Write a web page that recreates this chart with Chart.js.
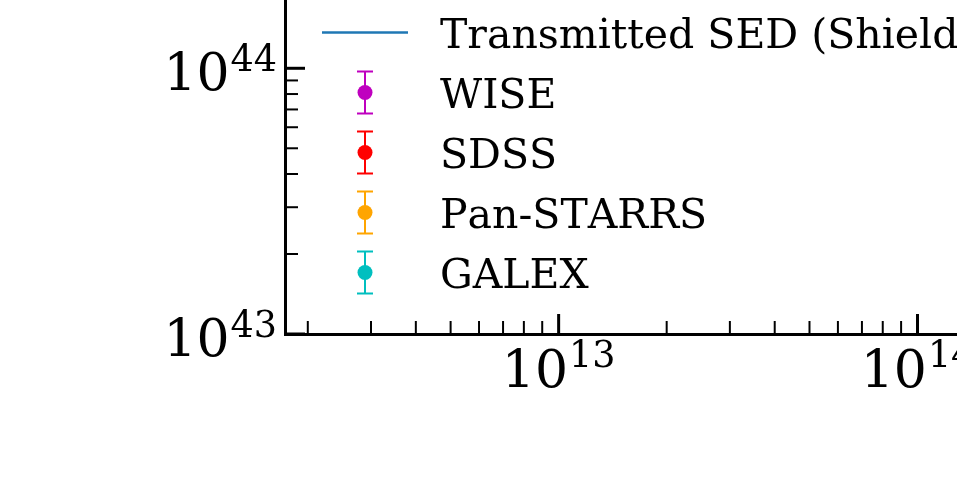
<!DOCTYPE html>
<html><head><meta charset="utf-8">
<script src="https://cdn.jsdelivr.net/npm/chart.js@4/dist/chart.umd.min.js"></script>
<style>html,body{margin:0;padding:0;background:#fff;overflow:hidden}canvas{display:block}</style>
</head><body><canvas id="c" width="957" height="481"></canvas>
<script>
// ---- data (no point of any series lies inside the visible window of the reference) ----
const seriesNames  = ['Transmitted SED (Shielded)', 'WISE', 'SDSS', 'Pan-STARRS', 'GALEX'];
const seriesColors = ['#1f77b4', '#bf00bf', '#ff0000', '#ffa500', '#00bfbf'];
const sedFreq = [];   const sedLum = [];
const wiseFreq = [];  const wiseLum = [];  const wiseErr = [];
const sdssFreq = [];  const sdssLum = [];  const sdssErr = [];
const panFreq = [];   const panLum = [];   const panErr = [];
const galexFreq = []; const galexLum = []; const galexErr = [];
const xTickExponents = [13, 14];
const yTickExponents = [43, 44];
const xLogRange = [12.2375, 14.11];
const yLogRange = [43.0, 44.257];

function pts(xs, ys, es) { return xs.map((x, i) => ({x: x, y: ys[i], err: es ? es[i] : 0})); }

const FONT = "'DejaVu Serif', serif";

const errorBars = {
  id: 'errorBars',
  afterDatasetsDraw(chart) {
    const ctx = chart.ctx, ys = chart.scales.y, xs = chart.scales.x;
    ctx.save();
    chart.data.datasets.forEach((ds) => {
      if (!ds.errorbar) return;
      ctx.strokeStyle = ds.borderColor; ctx.lineWidth = 2;
      ds.data.forEach(p => {
        const px = xs.getPixelForValue(p.x);
        const y1 = ys.getPixelForValue(p.y - p.err), y2 = ys.getPixelForValue(p.y + p.err);
        ctx.beginPath(); ctx.moveTo(px, y1); ctx.lineTo(px, y2);
        ctx.moveTo(px - 8, y1); ctx.lineTo(px + 8, y1);
        ctx.moveTo(px - 8, y2); ctx.lineTo(px + 8, y2); ctx.stroke();
      });
    });
    ctx.restore();
  }
};

const BASE_PX = 52, SUP_PX = 36.5;
function drawPow(ctx, exp, startX, baseY, supY) {
  ctx.font = BASE_PX + 'px ' + FONT;
  ctx.fillText('10', startX, baseY);
  const w = ctx.measureText('10').width;
  ctx.font = SUP_PX + 'px ' + FONT;
  ctx.fillText(String(exp), startX + w + 1, supY);
}
function powWidth(ctx, exp) {
  ctx.font = BASE_PX + 'px ' + FONT; const a = ctx.measureText('10').width;
  ctx.font = SUP_PX + 'px ' + FONT; const b = ctx.measureText(String(exp)).width;
  return a + b + 1;
}

const axisDecor = {
  id: 'axisDecor',
  afterDraw(chart) {
    const ctx = chart.ctx, xs = chart.scales.x, ys = chart.scales.y, ca = chart.chartArea;
    ctx.save();
    ctx.strokeStyle = '#000'; ctx.fillStyle = '#000';
    ctx.textAlign = 'left'; ctx.textBaseline = 'alphabetic';
    try { ctx.fontKerning = 'none'; } catch (e) {}
    const eachTick = (scale, fn) => {
      const lo = Math.floor(Math.log10(scale.min)), hi = Math.ceil(Math.log10(scale.max));
      for (let k = lo; k <= hi; k++) for (let m = 1; m <= 9; m++) {
        const v = m * Math.pow(10, k);
        if (v < scale.min || v > scale.max) continue;
        fn(scale.getPixelForValue(v), m === 1, k);
      }
    };
    // x ticks (inward)
    eachTick(xs, (px, major, k) => {
      ctx.lineWidth = major ? 3 : 2;
      ctx.beginPath(); ctx.moveTo(px, ca.bottom); ctx.lineTo(px, ca.bottom - (major ? 20 : 13)); ctx.stroke();
      if (major && xTickExponents.includes(k)) {
        const w = powWidth(ctx, k);
        drawPow(ctx, k, px - w / 2, ca.bottom + 53, ca.bottom + 33);
      }
    });
    eachTick(ys, (py, major, k) => {
      ctx.lineWidth = major ? 3 : 2;
      ctx.beginPath(); ctx.moveTo(ca.left, py); ctx.lineTo(ca.left + (major ? 20 : 13), py); ctx.stroke();
      if (major && yTickExponents.includes(k)) {
        const w = powWidth(ctx, k);
        drawPow(ctx, k, ca.left - 8 - w, py + 22, py + 3);
      }
    });
    // legend
    const hx0 = 322, hx1 = 408, hc = 365, tx = 440, base0 = 47.5, step = 60;
    ctx.font = '41px ' + FONT;
    chart.data.datasets.forEach((ds, i) => {
      const b = base0 + i * step, cy = b - 15;
      ctx.fillStyle = '#000';
      ctx.fillText(ds.label, tx, b);
      ctx.strokeStyle = ds.borderColor;
      if (!ds.errorbar) {
        ctx.lineWidth = 2.5;
        ctx.beginPath(); ctx.moveTo(hx0, cy); ctx.lineTo(hx1, cy); ctx.stroke();
      } else {
        ctx.lineWidth = 2;
        ctx.beginPath();
        ctx.moveTo(hc, cy - 21); ctx.lineTo(hc, cy + 21);
        ctx.moveTo(hc - 8, cy - 21); ctx.lineTo(hc + 8, cy - 21);
        ctx.moveTo(hc - 8, cy + 21); ctx.lineTo(hc + 8, cy + 21);
        ctx.stroke();
        ctx.fillStyle = ds.borderColor;
        ctx.beginPath(); ctx.arc(hc, cy, 7.5, 0, Math.PI * 2); ctx.fill();
      }
    });
    ctx.restore();
  }
};

const mk = (i, data, isErr) => ({
  label: seriesNames[i], data: data, borderColor: seriesColors[i], backgroundColor: seriesColors[i],
  showLine: !isErr, borderWidth: 2.5, pointRadius: isErr ? 7.5 : 0, errorbar: isErr
});

new Chart(document.getElementById('c'), {
  type: 'scatter',
  data: { datasets: [
    mk(0, pts(sedFreq, sedLum), false),
    mk(1, pts(wiseFreq, wiseLum, wiseErr), true),
    mk(2, pts(sdssFreq, sdssLum, sdssErr), true),
    mk(3, pts(panFreq, panLum, panErr), true),
    mk(4, pts(galexFreq, galexLum, galexErr), true)
  ]},
  options: {
    responsive: false, animation: false, devicePixelRatio: 1,
    layout: { padding: { left: 285, top: 0, right: 0, bottom: 147 } },
    plugins: { legend: { display: false }, tooltip: { enabled: false } },
    scales: {
      x: { type: 'logarithmic', min: Math.pow(10, xLogRange[0]), max: Math.pow(10, xLogRange[1]),
           ticks: { display: false }, grid: { display: false, drawTicks: false, tickLength: 0 },
           border: { display: true, width: 3, color: '#000' } },
      y: { type: 'logarithmic', min: Math.pow(10, yLogRange[0]), max: Math.pow(10, yLogRange[1]),
           ticks: { display: false }, grid: { display: false, drawTicks: false, tickLength: 0 },
           border: { display: true, width: 3, color: '#000' } }
    }
  },
  plugins: [errorBars, axisDecor]
});
</script>
</body></html>
